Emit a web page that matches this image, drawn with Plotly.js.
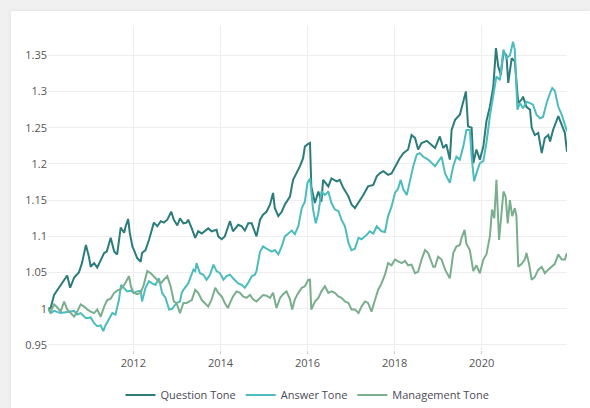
<!DOCTYPE html>
<html>
<head>
<meta charset="utf-8">
<script src="https://cdn.plot.ly/plotly-3.0.1.min.js"></script>
<style>
  html, body { margin: 0; padding: 0; width: 590px; height: 408px; overflow: hidden; background: #f0f0f0; }
  #chart { position: absolute; left: 11px; top: 11px; width: 579px; height: 397px; background: #fff; box-shadow: 0 0 4px rgba(0,0,0,0.08); }
</style>
</head>
<body>
<div id="chart"></div>
<script>
// Series names
const seriesNames = ["Question Tone", "Answer Tone", "Management Tone"];
const seriesColors = ["#2c7c7c", "#4dbcbf", "#7aae8d"];

// Dates as decimal years, values as index level
const questionYears = [2010.04,2010.10,2010.18,2010.33,2010.45,2010.48,2010.55,2010.64,2010.75,2010.82,2010.91,2010.98,2011.02,2011.10,2011.17,2011.25,2011.33,2011.39,2011.48,2011.56,2011.63,2011.71,2011.79,2011.82,2011.88,2011.92,2011.98,2012.01,2012.09,2012.17,2012.20,2012.28,2012.36,2012.47,2012.55,2012.63,2012.70,2012.78,2012.87,2012.93,2013.01,2013.07,2013.15,2013.22,2013.26,2013.34,2013.42,2013.49,2013.57,2013.72,2013.80,2013.91,2013.95,2014.03,2014.10,2014.22,2014.29,2014.41,2014.49,2014.56,2014.64,2014.72,2014.79,2014.83,2014.91,2014.98,2015.06,2015.14,2015.21,2015.25,2015.33,2015.41,2015.48,2015.60,2015.67,2015.75,2015.83,2015.90,2015.94,2016.00,2016.06,2016.09,2016.17,2016.25,2016.32,2016.36,2016.48,2016.55,2016.67,2016.74,2016.82,2016.94,2017.01,2017.09,2017.17,2017.28,2017.39,2017.51,2017.59,2017.66,2017.74,2017.85,2017.93,2018.05,2018.12,2018.20,2018.31,2018.39,2018.47,2018.54,2018.62,2018.74,2018.93,2019.04,2019.12,2019.19,2019.27,2019.31,2019.39,2019.50,2019.58,2019.64,2019.69,2019.77,2019.81,2019.88,2019.96,2020.04,2020.11,2020.19,2020.27,2020.33,2020.38,2020.44,2020.50,2020.57,2020.61,2020.69,2020.76,2020.84,2020.92,2020.95,2021.03,2021.11,2021.15,2021.22,2021.30,2021.38,2021.45,2021.53,2021.57,2021.64,2021.76,2021.84,2021.91,2021.96];
const questionValues = [1.000,1.001,1.019,1.033,1.045,1.046,1.029,1.043,1.050,1.063,1.088,1.072,1.058,1.063,1.057,1.068,1.077,1.079,1.098,1.079,1.075,1.112,1.105,1.113,1.124,1.105,1.086,1.082,1.070,1.065,1.077,1.081,1.095,1.119,1.114,1.121,1.119,1.123,1.134,1.123,1.115,1.125,1.118,1.119,1.123,1.111,1.098,1.107,1.104,1.111,1.107,1.109,1.100,1.096,1.100,1.121,1.107,1.116,1.114,1.108,1.118,1.118,1.105,1.100,1.123,1.130,1.134,1.144,1.160,1.139,1.128,1.134,1.144,1.155,1.178,1.187,1.197,1.208,1.224,1.227,1.229,1.169,1.146,1.162,1.148,1.178,1.169,1.180,1.176,1.178,1.167,1.155,1.144,1.139,1.146,1.157,1.169,1.171,1.183,1.187,1.190,1.185,1.187,1.201,1.208,1.215,1.220,1.240,1.236,1.220,1.229,1.232,1.222,1.238,1.222,1.227,1.206,1.247,1.261,1.268,1.286,1.300,1.252,1.250,1.201,1.220,1.206,1.224,1.259,1.279,1.307,1.360,1.335,1.323,1.355,1.350,1.312,1.346,1.342,1.284,1.289,1.293,1.279,1.275,1.250,1.240,1.243,1.215,1.236,1.240,1.231,1.247,1.266,1.254,1.243,1.217];

const answerYears = [2010.04,2010.10,2010.18,2010.33,2010.52,2010.64,2010.71,2010.79,2010.91,2011.02,2011.10,2011.17,2011.25,2011.31,2011.36,2011.44,2011.52,2011.59,2011.67,2011.72,2011.79,2011.86,2011.94,2012.01,2012.09,2012.17,2012.20,2012.28,2012.36,2012.43,2012.51,2012.59,2012.66,2012.74,2012.82,2012.89,2012.99,2013.07,2013.11,2013.15,2013.26,2013.34,2013.38,2013.42,2013.45,2013.53,2013.61,2013.68,2013.76,2013.84,2013.91,2013.99,2014.07,2014.14,2014.22,2014.29,2014.41,2014.49,2014.56,2014.64,2014.72,2014.79,2014.83,2014.91,2014.98,2015.06,2015.18,2015.25,2015.33,2015.41,2015.48,2015.56,2015.64,2015.71,2015.79,2015.87,2015.94,2016.00,2016.06,2016.13,2016.19,2016.25,2016.32,2016.40,2016.48,2016.55,2016.63,2016.71,2016.78,2016.86,2016.94,2017.01,2017.09,2017.17,2017.24,2017.36,2017.43,2017.51,2017.59,2017.70,2017.78,2017.85,2017.93,2018.01,2018.08,2018.14,2018.20,2018.28,2018.35,2018.43,2018.51,2018.58,2018.66,2018.77,2018.93,2019.00,2019.08,2019.16,2019.27,2019.35,2019.42,2019.50,2019.58,2019.65,2019.73,2019.77,2019.83,2019.88,2019.96,2020.04,2020.11,2020.19,2020.27,2020.34,2020.42,2020.50,2020.57,2020.65,2020.72,2020.76,2020.82,2020.88,2020.95,2021.03,2021.11,2021.18,2021.26,2021.34,2021.41,2021.49,2021.57,2021.62,2021.68,2021.76,2021.84,2021.91,2021.96];
const answerValues = [1.000,0.994,0.997,0.994,0.996,0.997,0.992,0.994,0.987,0.988,0.980,0.976,0.977,0.969,0.977,0.985,0.994,0.992,1.012,1.033,1.029,1.024,1.025,1.022,1.024,1.025,1.010,1.029,1.038,1.035,1.033,1.042,1.022,1.015,0.999,1.000,1.008,1.010,1.022,1.026,1.035,1.049,1.054,1.052,1.063,1.049,1.047,1.040,1.047,1.061,1.052,1.049,1.040,1.045,1.047,1.042,1.035,1.033,1.029,1.036,1.045,1.047,1.052,1.079,1.086,1.083,1.079,1.081,1.075,1.086,1.100,1.104,1.108,1.103,1.114,1.139,1.148,1.174,1.180,1.137,1.118,1.132,1.162,1.157,1.162,1.146,1.137,1.135,1.123,1.114,1.091,1.081,1.083,1.098,1.096,1.102,1.107,1.104,1.114,1.107,1.106,1.128,1.141,1.160,1.166,1.178,1.165,1.157,1.178,1.197,1.213,1.215,1.210,1.206,1.197,1.204,1.210,1.187,1.174,1.197,1.210,1.206,1.224,1.247,1.247,1.210,1.176,1.187,1.201,1.204,1.229,1.266,1.293,1.321,1.316,1.358,1.346,1.350,1.369,1.358,1.275,1.284,1.277,1.286,1.284,1.282,1.268,1.263,1.265,1.284,1.298,1.305,1.301,1.279,1.268,1.254,1.245];

const managementYears = [2010.04,2010.10,2010.18,2010.25,2010.33,2010.41,2010.48,2010.56,2010.64,2010.71,2010.79,2010.87,2010.94,2011.02,2011.10,2011.17,2011.25,2011.33,2011.40,2011.48,2011.56,2011.63,2011.71,2011.79,2011.86,2011.90,2011.95,2012.01,2012.09,2012.17,2012.24,2012.32,2012.40,2012.47,2012.55,2012.63,2012.70,2012.78,2012.86,2012.93,2012.99,2013.07,2013.15,2013.22,2013.34,2013.42,2013.49,2013.57,2013.64,2013.72,2013.80,2013.88,2013.95,2014.03,2014.10,2014.17,2014.22,2014.29,2014.37,2014.45,2014.52,2014.60,2014.68,2014.75,2014.83,2014.91,2014.98,2015.06,2015.14,2015.21,2015.29,2015.37,2015.44,2015.52,2015.60,2015.65,2015.71,2015.79,2015.87,2015.94,2016.02,2016.06,2016.09,2016.17,2016.25,2016.32,2016.40,2016.48,2016.55,2016.63,2016.71,2016.78,2016.86,2016.94,2017.01,2017.09,2017.17,2017.24,2017.32,2017.39,2017.47,2017.55,2017.62,2017.70,2017.78,2017.85,2017.93,2018.01,2018.08,2018.16,2018.24,2018.31,2018.39,2018.47,2018.54,2018.62,2018.70,2018.77,2018.89,2018.93,2019.00,2019.08,2019.16,2019.27,2019.35,2019.42,2019.50,2019.54,2019.61,2019.65,2019.73,2019.81,2019.88,2019.96,2020.04,2020.11,2020.19,2020.24,2020.29,2020.34,2020.40,2020.46,2020.50,2020.55,2020.60,2020.65,2020.70,2020.76,2020.80,2020.84,2020.92,2020.99,2021.03,2021.09,2021.15,2021.22,2021.30,2021.38,2021.45,2021.53,2021.60,2021.68,2021.76,2021.84,2021.91,2021.96];
const managementValues = [1.000,0.996,1.006,1.002,0.996,1.010,0.999,0.994,0.989,0.996,1.006,1.003,0.999,0.996,0.994,0.999,0.989,1.003,1.012,1.014,1.022,1.025,1.027,1.033,1.040,1.045,1.030,1.022,1.020,1.022,1.033,1.052,1.049,1.045,1.040,1.035,1.040,1.045,1.030,1.010,1.008,0.994,1.008,1.008,1.012,1.026,1.022,1.012,1.008,1.003,1.013,1.029,1.022,1.017,1.008,1.001,1.008,1.017,1.024,1.022,1.017,1.015,1.019,1.013,1.010,1.015,1.019,1.018,1.015,1.022,1.001,1.015,1.020,1.024,1.013,0.999,1.013,1.022,1.029,1.031,1.040,1.040,0.999,1.010,1.015,1.024,1.031,1.022,1.024,1.022,1.017,1.015,1.010,1.008,0.999,0.999,0.994,1.003,1.010,1.008,0.996,1.012,1.026,1.035,1.047,1.063,1.060,1.068,1.066,1.063,1.066,1.060,1.061,1.049,1.051,1.068,1.081,1.077,1.058,1.058,1.072,1.068,1.054,1.042,1.077,1.086,1.088,1.098,1.109,1.090,1.081,1.052,1.060,1.049,1.068,1.075,1.100,1.137,1.125,1.178,1.095,1.141,1.162,1.155,1.118,1.150,1.128,1.139,1.128,1.058,1.062,1.068,1.077,1.062,1.040,1.044,1.054,1.058,1.049,1.054,1.058,1.062,1.075,1.068,1.068,1.077];

const yTickStep = 0.05;

function yearToDate(t) {
  const y = Math.floor(t);
  const s = Date.UTC(y, 0, 1), e = Date.UTC(y + 1, 0, 1);
  return new Date(s + (t - y) * (e - s)).toISOString().slice(0, 10);
}

const allYears = [questionYears, answerYears, managementYears];
const allValues = [questionValues, answerValues, managementValues];

const traces = seriesNames.map((name, i) => ({
  type: 'scatter',
  mode: 'lines',
  name: name,
  x: allYears[i].map(yearToDate),
  y: allValues[i],
  line: { color: seriesColors[i], width: 2 }
}));

const layout = {
  width: 579,
  height: 397,
  margin: { l: 37, r: 23, t: 14, b: 58, autoexpand: false },
  paper_bgcolor: '#ffffff',
  plot_bgcolor: '#ffffff',
  font: { family: '"Open Sans", verdana, arial, sans-serif', size: 11, color: '#444' },
  showlegend: true,
  legend: {
    orientation: 'h',
    x: 0.5, xanchor: 'center', xref: 'paper',
    y: 0.033, yanchor: 'middle', yref: 'container',
    font: { size: 11, color: '#4a4a55' }
  },
  xaxis: {
    type: 'date',
    showgrid: true,
    gridcolor: '#eeeeee',
    zeroline: false,
    showline: false,
    ticks: 'outside',
    ticklen: 3,
    tickcolor: '#cccccc',
    dtick: 'M24',
    tick0: '2012-01-01',
    tickformat: '%Y',
    tickfont: { size: 11, color: '#555' }
  },
  yaxis: {
    range: [0.943, 1.392],
    dtick: yTickStep,
    tick0: 0.95,
    showgrid: true,
    gridcolor: '#eeeeee',
    zeroline: false,
    showline: false,
    tickfont: { size: 11, color: '#555' }
  }
};

Plotly.newPlot('chart', traces, layout, { displayModeBar: false, staticPlot: true });
</script>
</body>
</html>
